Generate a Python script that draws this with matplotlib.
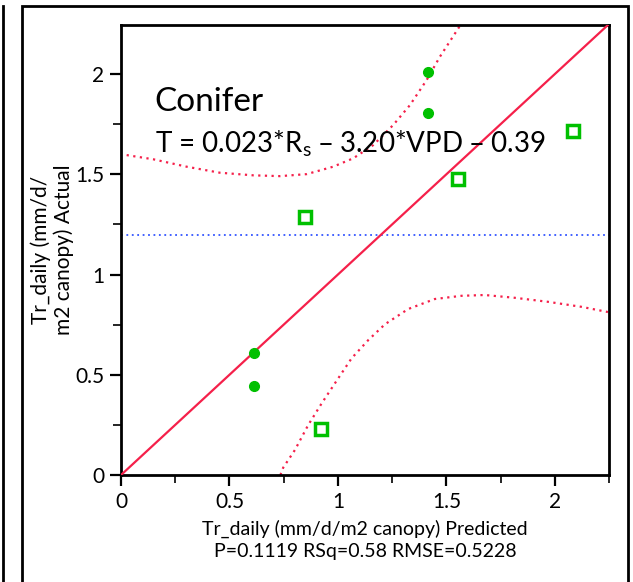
import matplotlib.pyplot as plt
from matplotlib.patches import Rectangle

plt.rcParams['font.family'] = ['Lato', 'DejaVu Sans']
plt.rcParams['mathtext.default'] = 'regular'

# observed vs predicted daily transpiration
circ_pred   = [1.415, 1.415, 0.613, 0.613]
circ_actual = [2.01, 1.805, 0.608, 0.444]
sq_pred     = [2.083, 1.553, 0.848, 0.922]
sq_actual   = [1.716, 1.476, 1.287, 0.229]

# fit line, mean and confidence curves
fit_x = [0.0, 2.245]
fit_y = [0.0, 2.245]
mean_y = 1.197
upper_x = [0.026, 0.149, 0.303, 0.456, 0.610, 0.733, 0.856, 0.978, 1.071,
           1.163, 1.255, 1.332, 1.409, 1.470, 1.555, 1.565]
upper_y = [1.596, 1.575, 1.538, 1.508, 1.495, 1.491, 1.501, 1.538, 1.580,
           1.646, 1.746, 1.845, 1.970, 2.086, 2.228, 2.245]
lower_x = [0.735, 0.748, 0.802, 0.863, 0.925, 0.986, 1.063, 1.140, 1.217,
           1.324, 1.447, 1.570, 1.677, 1.816, 1.969, 2.123, 2.245]
lower_y = [0.0, 0.037, 0.125, 0.249, 0.357, 0.457, 0.582, 0.673, 0.752,
           0.828, 0.878, 0.894, 0.898, 0.884, 0.864, 0.839, 0.813]

XLIM = (0, 2.245)
YLIM = (0, 2.245)
RED = "#f5204a"
GREEN = "#00c000"

fig = plt.figure(figsize=(6.33, 5.82), dpi=100)
ax = fig.add_axes([121/633, 1 - 475/582, (609 - 121)/633, (475 - 25)/582])

# panel frames
fig.patches.append(Rectangle((22/633, -0.1), (628 - 22)/633, 1.1 - 6/582,
                             transform=fig.transFigure, fill=False,
                             edgecolor="black", linewidth=2))
fig.add_artist(plt.Line2D([3/633, 3/633], [0, 1 - 6/582], transform=fig.transFigure,
                          color="black", linewidth=2))

ax.plot(fit_x, fit_y, color=RED, lw=1.6, zorder=3)
ax.axhline(mean_y, color="#3355ff", lw=1.3, linestyle=(0, (1, 2)), zorder=2)
ax.plot(upper_x, upper_y, color=RED, lw=1.6, linestyle=(0, (1, 2)), zorder=2)
ax.plot(lower_x, lower_y, color=RED, lw=1.6, linestyle=(0, (1, 2)), zorder=2)

ax.plot(circ_pred, circ_actual, "o", color=GREEN, markersize=7, zorder=4)
ax.plot(sq_pred, sq_actual, "s", markerfacecolor="white", markeredgecolor=GREEN,
        markeredgewidth=2.5, markersize=9, zorder=4)

ax.text(0.155, 1.86, "Conifer", fontsize=24, va="center", ha="left")
ax.text(0.155, 1.655, "T = 0.023*R$_s$ \u2013 3.20*VPD \u2013 0.39", fontsize=20,
        va="center", ha="left")

ax.set_xlim(*XLIM)
ax.set_ylim(*YLIM)
ax.set_xticks([0, 0.5, 1, 1.5, 2])
ax.set_xticklabels(["0", "0.5", "1", "1.5", "2"])
ax.set_yticks([0, 0.5, 1, 1.5, 2])
ax.set_yticklabels(["0", "0.5", "1", "1.5", "2"])
ax.set_xticks([0.25, 0.75, 1.25, 1.75, 2.25], minor=True)
ax.set_yticks([0.25, 0.75, 1.25, 1.75], minor=True)
ax.tick_params(which="major", direction="out", length=8, width=1.6, labelsize=15, pad=4)
ax.tick_params(which="minor", direction="out", length=6, width=1.2)
for sp in ax.spines.values():
    sp.set_linewidth(2)

ax.set_xlabel("Tr_daily (mm/d/m2 canopy) Predicted\nP=0.1119 RSq=0.58 RMSE=0.5228",
              fontsize=14, labelpad=6, linespacing=1.3)
ax.set_ylabel("Tr_daily (mm/d/\nm2 canopy) Actual", fontsize=15, labelpad=1,
              linespacing=1.15)

plt.savefig("out.png", dpi=100)
plt.close()
